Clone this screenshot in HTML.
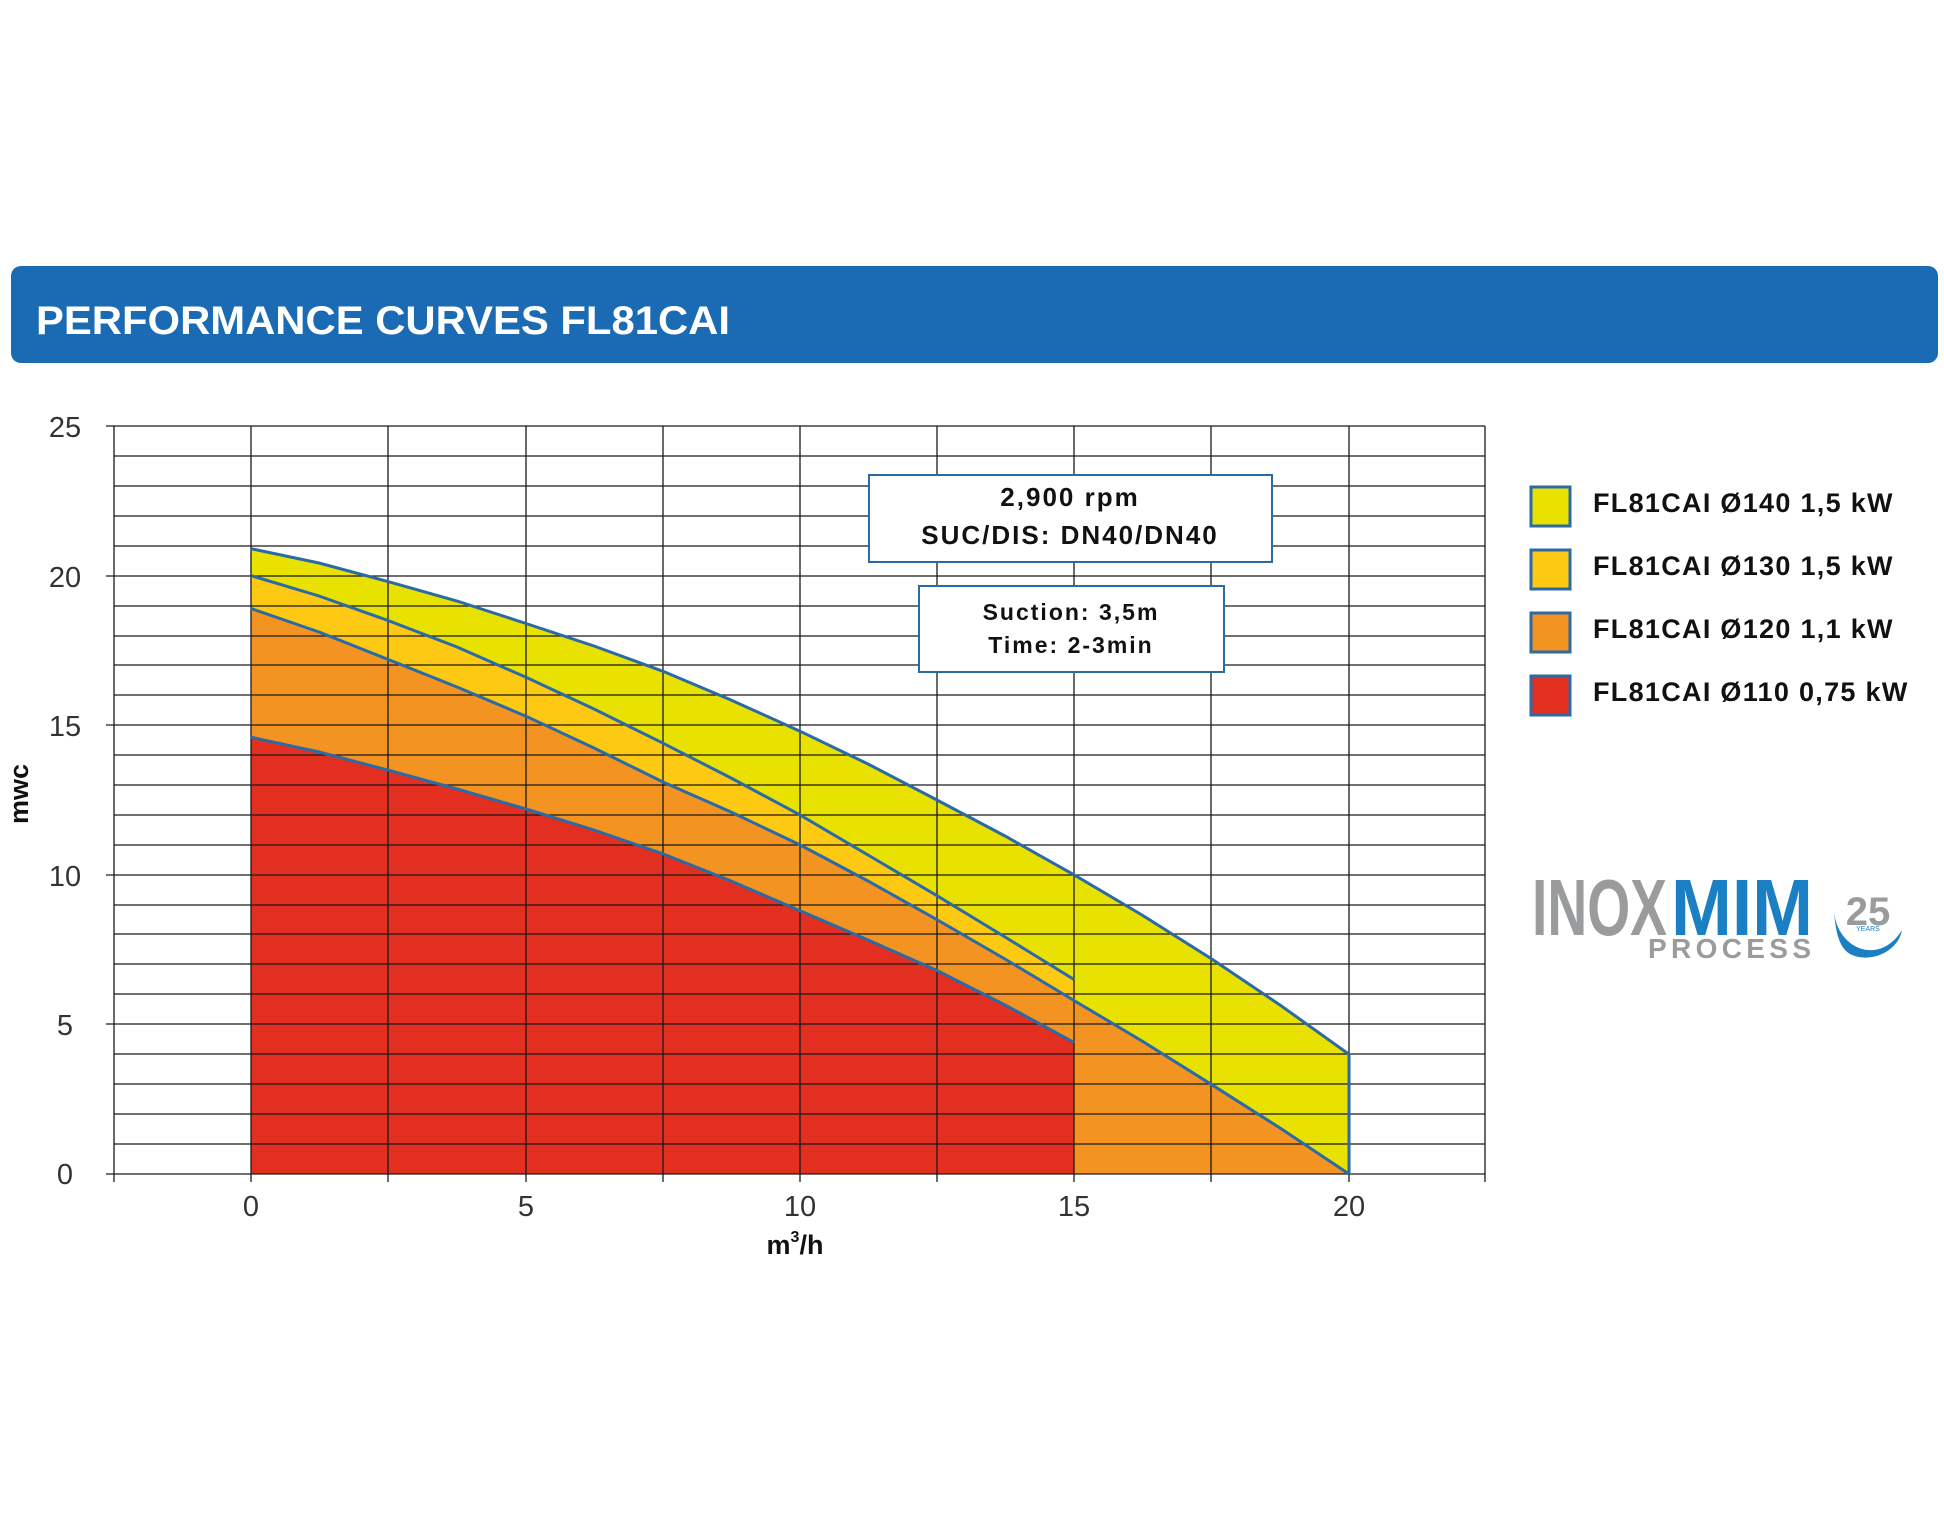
<!DOCTYPE html>
<html><head><meta charset="utf-8"><style>
html,body{margin:0;padding:0;background:#fff;}
svg{display:block;}
</style></head><body>
<svg width="1944" height="1528" viewBox="0 0 1944 1528" xmlns="http://www.w3.org/2000/svg" font-family="Liberation Sans, sans-serif">
<rect x="11" y="266" width="1927" height="97" rx="10" fill="#1a6bb3"/>
<text x="36" y="334" font-size="40" font-weight="bold" fill="#fff" textLength="694" lengthAdjust="spacingAndGlyphs">PERFORMANCE CURVES FL81CAI</text>

<g id="fills">
<path fill="#e9e200" d="M251,548.7 L319,563 L388,581.6 L457,601 L526,623.5 L594,646 L663,671.3 L731,700 L800,731.2 L868,764 L937,800 L1005,836 L1074,874.8 L1142,915 L1211,958.5 L1280,1005 L1349,1054.3 L1349,1174 L251,1174Z"/>
<path fill="#fdc913" d="M251,575.6 L319,596 L388,620.5 L457,647 L526,677.3 L594,709 L663,743.2 L731,778 L800,814.9 L868,855 L937,895.7 L1005,937 L1074,979.5 L1074,1174 L251,1174Z"/>
<path fill="#f29322" d="M251,608.5 L319,632 L388,659.4 L457,687 L526,716.2 L594,748 L663,782 L731,812 L800,844.9 L868,881 L937,919.7 L1005,959 L1074,1000.5 L1142,1041 L1211,1084.2 L1280,1128 L1349,1174 L251,1174Z"/>
<path fill="#e32f20" d="M251,737.2 L319,752 L388,770.1 L457,789 L526,809 L594,830 L663,853.9 L731,881 L800,910.7 L868,940 L937,970.5 L1005,1005 L1074,1042.4 L1074,1174 L251,1174Z"/>
</g>

<g stroke="#1a1a1a" stroke-width="1.3">
<path d="M114,426H1485M114,456H1485M114,486H1485M114,516H1485M114,546H1485M114,576H1485M114,606H1485M114,636H1485M114,665H1485M114,695H1485M114,725H1485M114,755H1485M114,785H1485M114,815H1485M114,845H1485M114,875H1485M114,905H1485M114,934H1485M114,964H1485M114,994H1485M114,1024H1485M114,1054H1485M114,1084H1485M114,1114H1485M114,1144H1485M106,1174H1485"/>
<path d="M114,426V1182M251,426V1182M388,426V1182M526,426V1182M663,426V1182M800,426V1182M937,426V1182M1074,426V1182M1211,426V1182M1349,426V1182M1485,426V1182"/>
<path d="M106,426H114M106,576H114M106,725H114M106,875H114M106,1024H114"/>
</g>

<g fill="none" stroke="#2a6aa6" stroke-width="3">
<path d="M251,548.7 L319,563 L388,581.6 L457,601 L526,623.5 L594,646 L663,671.3 L731,700 L800,731.2 L868,764 L937,800 L1005,836 L1074,874.8 L1142,915 L1211,958.5 L1280,1005 L1349,1054.3 L1349,1174"/>
<path d="M251,575.6 L319,596 L388,620.5 L457,647 L526,677.3 L594,709 L663,743.2 L731,778 L800,814.9 L868,855 L937,895.7 L1005,937 L1074,979.5"/>
<path d="M251,608.5 L319,632 L388,659.4 L457,687 L526,716.2 L594,748 L663,782 L731,812 L800,844.9 L868,881 L937,919.7 L1005,959 L1074,1000.5 L1142,1041 L1211,1084.2 L1280,1128 L1349,1174"/>
<path d="M251,737.2 L319,752 L388,770.1 L457,789 L526,809 L594,830 L663,853.9 L731,881 L800,910.7 L868,940 L937,970.5 L1005,1005 L1074,1042.4"/>
</g>

<g font-size="29" fill="#333" text-anchor="middle">
<text x="65" y="437">25</text><text x="65" y="587">20</text><text x="65" y="736">15</text><text x="65" y="886">10</text><text x="65" y="1035">5</text><text x="65" y="1184">0</text>
<text x="251" y="1216">0</text><text x="526" y="1216">5</text><text x="800" y="1216">10</text><text x="1074" y="1216">15</text><text x="1349" y="1216">20</text>
</g>
<text x="795" y="1254" font-size="27" font-weight="bold" text-anchor="middle" fill="#111">m<tspan font-size="16" dy="-12">3</tspan><tspan dy="12">/h</tspan></text>
<text transform="translate(28,794) rotate(-90)" font-size="27" font-weight="bold" text-anchor="middle" fill="#111">mwc</text>

<rect x="869" y="475" width="403" height="87" fill="#fff" stroke="#2a6aa6" stroke-width="2"/>
<text x="1070" y="506" font-size="26" font-weight="bold" text-anchor="middle" fill="#111" letter-spacing="2">2,900 rpm</text>
<text x="1070" y="544" font-size="26" font-weight="bold" text-anchor="middle" fill="#111" letter-spacing="2">SUC/DIS: DN40/DN40</text>
<rect x="919" y="586" width="305" height="86" fill="#fff" stroke="#2a6aa6" stroke-width="2"/>
<text x="1071" y="620" font-size="23" font-weight="bold" text-anchor="middle" fill="#111" letter-spacing="2">Suction: 3,5m</text>
<text x="1071" y="653" font-size="23" font-weight="bold" text-anchor="middle" fill="#111" letter-spacing="2">Time: 2-3min</text>

<g stroke="#2a6aa6" stroke-width="3">
<rect x="1531" y="487" width="39" height="39" fill="#e9e200"/>
<rect x="1531" y="550" width="39" height="39" fill="#fdc913"/>
<rect x="1531" y="613" width="39" height="39" fill="#f29322"/>
<rect x="1531" y="676" width="39" height="39" fill="#e32f20"/>
</g>
<g font-size="27" font-weight="bold" fill="#111" letter-spacing="1.3">
<text x="1593" y="512">FL81CAI Ø140 1,5 kW</text>
<text x="1593" y="575">FL81CAI Ø130 1,5 kW</text>
<text x="1593" y="638">FL81CAI Ø120 1,1 kW</text>
<text x="1593" y="701">FL81CAI Ø110 0,75 kW</text>
</g>

<text x="1532" y="935" font-size="80" font-weight="bold" fill="#9a9b9d" textLength="135" lengthAdjust="spacingAndGlyphs">INOX</text>
<text x="1671" y="935" font-size="80" font-weight="bold" fill="#1b7fc4" textLength="142" lengthAdjust="spacingAndGlyphs">MIM</text>
<text x="1648" y="958" font-size="28" font-weight="bold" fill="#9a9b9d" textLength="163" lengthAdjust="spacing">PROCESS</text>
<path d="M1834,912 C1838,950 1880,966 1902,930 C1898,952 1870,964 1850,954 C1840,948 1836,935 1834,912Z" fill="#1b7fc4"/>
<text x="1868" y="925" font-size="40" font-weight="bold" fill="#9a9b9d" text-anchor="middle">25</text>
<text x="1868" y="931" font-size="7" fill="#1b7fc4" text-anchor="middle">YEARS</text>
</svg>
</body></html>
